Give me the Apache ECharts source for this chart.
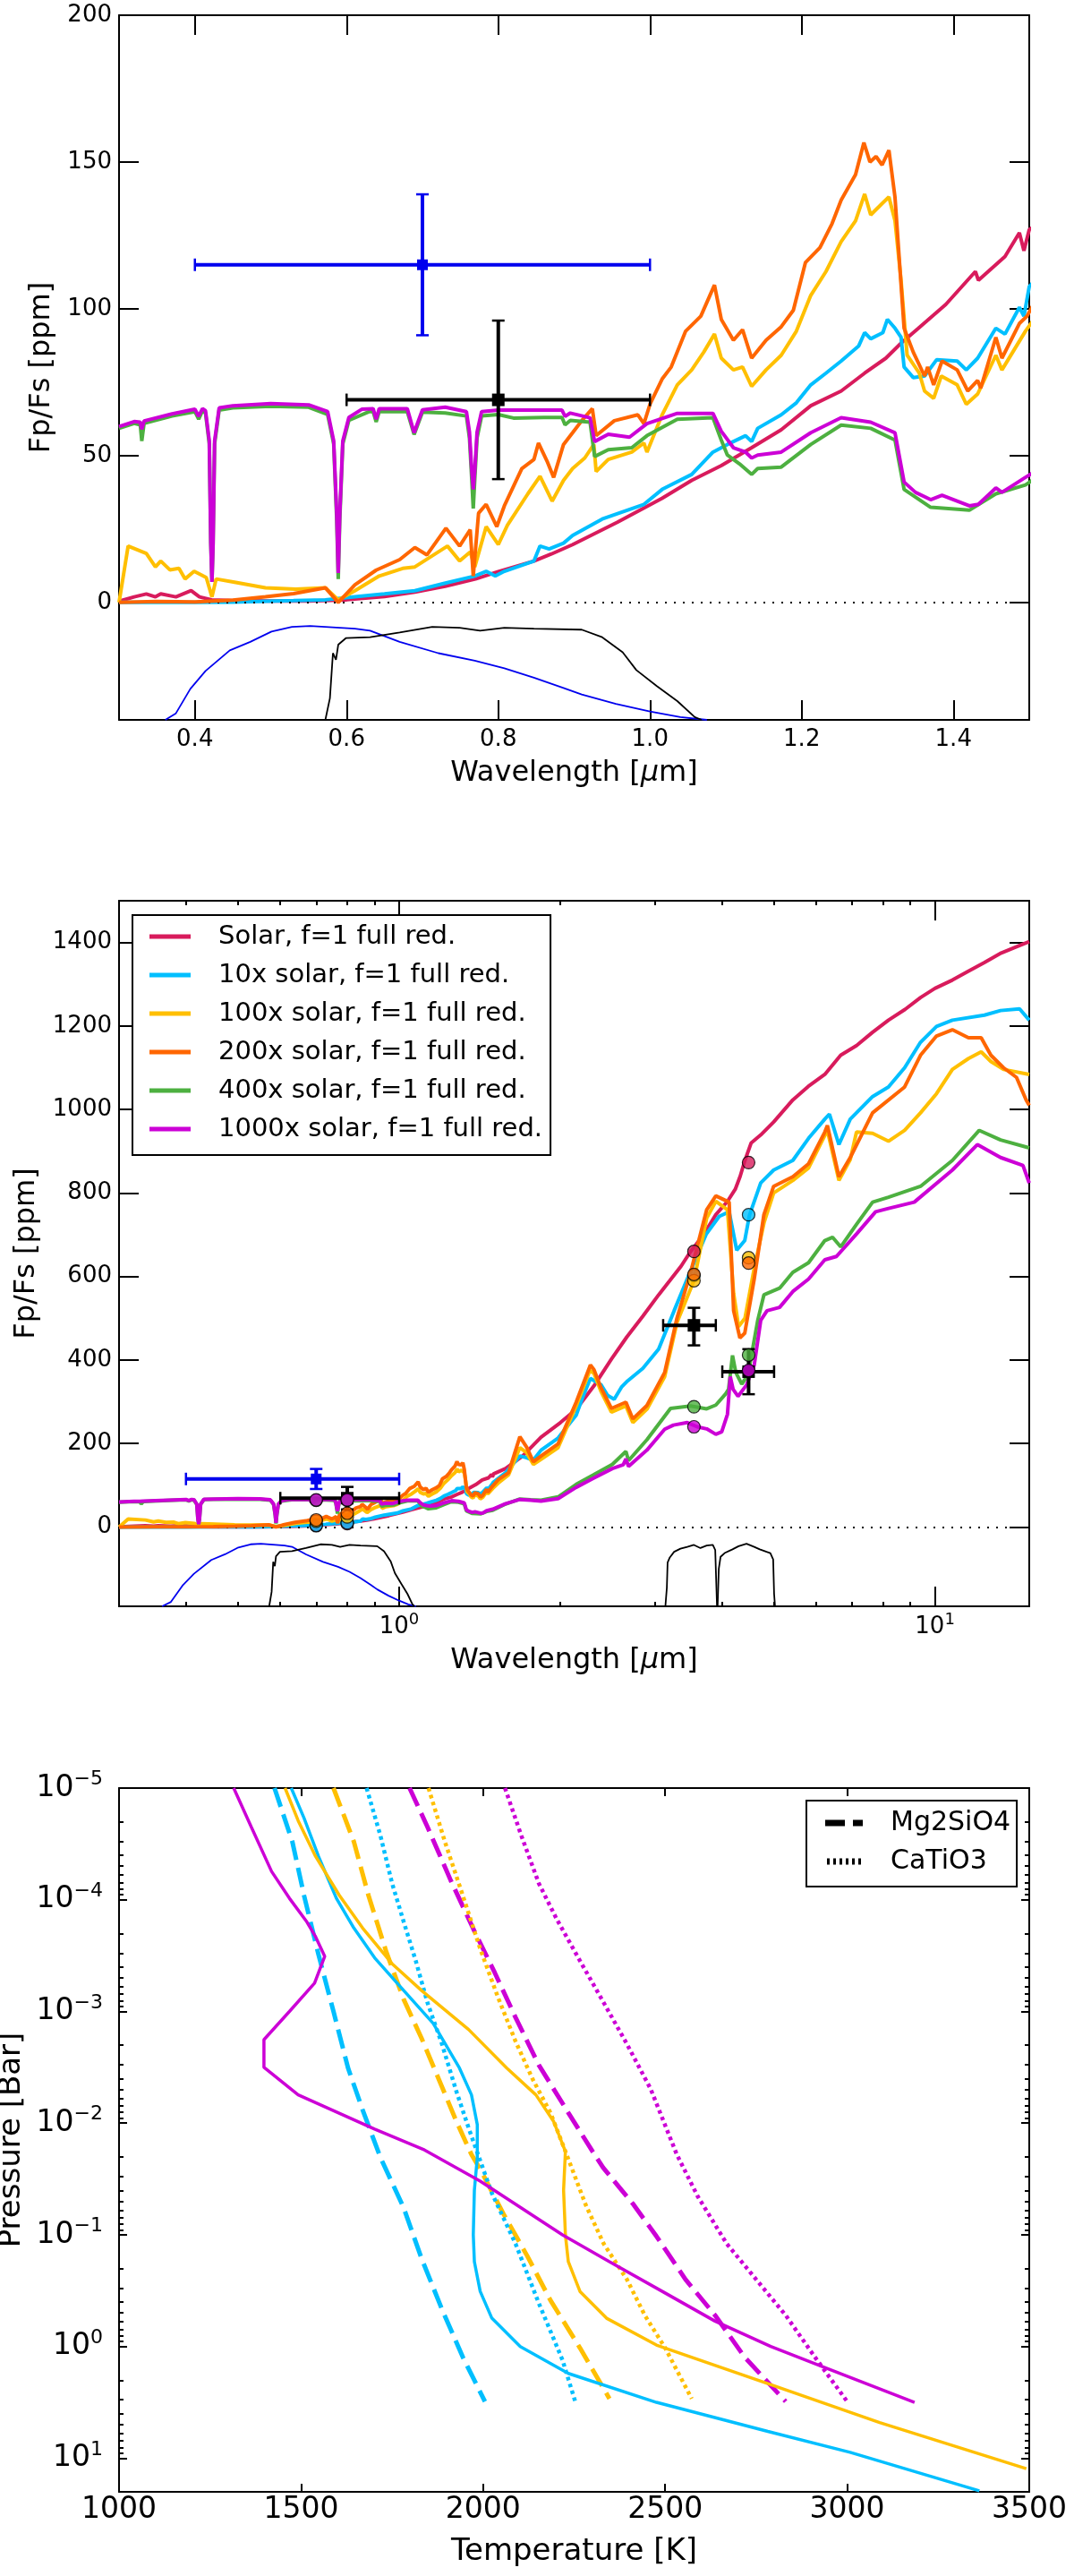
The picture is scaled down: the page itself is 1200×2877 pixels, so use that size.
<!DOCTYPE html>
<html>
<head>
<meta charset="utf-8">
<script src="https://cdn.jsdelivr.net/npm/echarts@6/dist/echarts.min.js"></script>
<style>
  html, body { margin: 0; padding: 0; background: #fff; }
  #chart { width: 1200px; height: 2877px; }
</style>
</head>
<body>
<div id="chart"></div>
<script>
// ---- spectra: [wavelength (um), Fp/Fs (ppm)] ----
const SOLAR = [[0.3,0.4],[0.32,1.9],[0.336,2.9],[0.348,1.9],[0.355,2.9],[0.375,1.9],[0.395,4.0],[0.406,1.9],[0.422,0.9],[0.45,0.6],[0.5,0.5],[0.55,0.5],[0.6,0.9],[0.65,2.0],[0.69,3.5],[0.73,5.5],[0.77,8.0],[0.8,10.5],[0.847,14.1],[0.87,16.5],[0.898,19.7],[0.957,27.3],[1.016,35.5],[1.055,41.6],[1.094,46.6],[1.134,52.7],[1.173,58.8],[1.212,67],[1.252,72],[1.283,78.1],[1.311,83.2],[1.331,88.3],[1.354,93.4],[1.39,101.5],[1.429,112.7],[1.433,109.7],[1.468,117.8],[1.487,125.9],[1.493,119.8],[1.5,127],[1.58,140],[1.7,170],[1.84,215],[2.0,250],[2.14,282],[2.31,338],[2.49,402],[2.66,455],[2.85,505],[3.05,556],[3.2,590],[3.36,625],[3.5,660],[3.7,700],[3.9,748],[4.1,780],[4.24,809],[4.33,840],[4.42,878],[4.54,920],[4.73,939],[5.0,970],[5.43,1023],[5.8,1055],[6.23,1084],[6.67,1130],[7.14,1153],[7.65,1185],[8.19,1214],[8.8,1240],[9.4,1268],[10.0,1290],[10.78,1310],[11.5,1330],[12.37,1352],[13.3,1375],[14.2,1390],[15,1402]];
const X10 = [[0.3,0],[0.4,0],[0.45,0.1],[0.493,0.4],[0.53,0.6],[0.572,0.9],[0.611,1.9],[0.65,2.9],[0.69,4.0],[0.729,6.5],[0.769,9.0],[0.784,10.6],[0.796,9.0],[0.808,10.6],[0.847,14.1],[0.855,19.2],[0.867,18.2],[0.886,20.2],[0.898,22.8],[0.937,28.4],[0.992,33.4],[1.016,38.5],[1.055,43.6],[1.083,51.2],[1.102,53.8],[1.126,56.8],[1.134,54.8],[1.142,59.3],[1.173,63.9],[1.193,68],[1.212,74.1],[1.232,78.1],[1.252,82.2],[1.275,87.3],[1.283,91.9],[1.291,89.8],[1.307,91.9],[1.313,96.4],[1.323,93.4],[1.331,90.3],[1.335,80.2],[1.347,76.6],[1.362,77.1],[1.378,82.7],[1.405,82.2],[1.417,79.2],[1.432,83.2],[1.456,93.4],[1.468,91.4],[1.487,100.5],[1.493,97.5],[1.5,107.6],[1.58,130],[1.68,170],[1.73,166],[1.78,160],[1.84,184],[1.98,213],[2.14,268],[2.2,310],[2.275,356],[2.38,341],[2.45,315],[2.52,306],[2.6,335],[2.67,350],[2.85,380],[3.05,426],[3.26,518],[3.49,610],[3.745,702],[3.957,744],[4.13,755],[4.267,663],[4.416,686],[4.507,747],[4.73,824],[5.0,855],[5.43,878],[5.81,931],[6.23,977],[6.355,989],[6.62,916],[6.95,977],[7.65,1031],[8.19,1054],[8.78,1100],[9.4,1161],[10.07,1199],[10.78,1214],[12.37,1226],[13.26,1237],[14.39,1241],[15,1214]];
const X100 = [[0.3,0],[0.312,19.2],[0.336,16.7],[0.348,12.1],[0.355,14.1],[0.367,11.1],[0.379,11.6],[0.387,8],[0.399,10.6],[0.415,8.5],[0.4225,1.9],[0.428,8],[0.454,6.8],[0.493,5],[0.533,4.5],[0.572,5],[0.589,0.9],[0.611,4],[0.643,9],[0.674,11.6],[0.69,12.1],[0.733,19.2],[0.749,14.1],[0.763,17.2],[0.769,12.1],[0.784,25.8],[0.8,19.7],[0.812,26.3],[0.839,37],[0.855,43],[0.871,34.5],[0.886,41.6],[0.898,45.6],[0.914,49.2],[0.926,53.8],[0.929,44.6],[0.945,48.7],[0.976,51.2],[0.992,54.3],[0.996,51.2],[1.016,63.9],[1.036,74.1],[1.055,79.2],[1.071,85.3],[1.085,91.4],[1.094,83.2],[1.11,79.2],[1.122,80.2],[1.134,73.6],[1.153,79.2],[1.173,84.2],[1.193,92.4],[1.212,104.6],[1.232,112.7],[1.252,122.9],[1.271,130],[1.283,139.1],[1.291,132],[1.307,136.1],[1.315,138.1],[1.323,130],[1.331,109.7],[1.339,84.2],[1.355,78.1],[1.362,72],[1.374,69.5],[1.384,77.1],[1.405,74.1],[1.417,67.5],[1.432,71],[1.456,84.2],[1.464,79.2],[1.495,92.4],[1.53,105],[1.6,125],[1.68,190],[1.73,178],[1.78,150],[1.84,162],[1.98,190],[2.14,290],[2.27,375],[2.31,368],[2.38,325],[2.49,275],[2.65,290],[2.73,250],[2.9,282],[3.13,360],[3.3,490],[3.55,590],[3.75,740],[3.9,780],[4.1,760],[4.21,560],[4.3,480],[4.42,500],[4.6,620],[4.8,730],[5.0,800],[5.43,830],[5.81,860],[6.3,950],[6.62,830],[6.95,880],[7.14,946],[7.65,943],[8.19,924],[8.78,950],[9.4,992],[10.07,1038],[10.78,1096],[11.55,1122],[12.2,1138],[12.72,1115],[13.43,1096],[15,1084]];
const X200 = [[0.3,0],[0.35,0.3],[0.4,0.2],[0.45,0.8],[0.493,1.9],[0.53,3],[0.572,5],[0.589,0],[0.611,6],[0.639,11],[0.67,14.6],[0.69,18.7],[0.706,16.2],[0.731,25.3],[0.749,19.2],[0.763,24.8],[0.767,9],[0.774,30.4],[0.784,33.4],[0.798,25.8],[0.808,32.9],[0.831,45.6],[0.847,48.7],[0.853,54.3],[0.865,47.7],[0.873,42.6],[0.886,53.8],[0.898,57.8],[0.91,61.9],[0.924,66],[0.929,56.8],[0.953,61.9],[0.984,63.9],[0.992,60.9],[1.0,67.5],[1.016,76.1],[1.028,80.2],[1.047,92.4],[1.067,97.5],[1.085,108.1],[1.094,96.4],[1.11,89.3],[1.122,92.9],[1.134,83.2],[1.153,89.3],[1.173,93.9],[1.189,99.5],[1.205,115.8],[1.224,120.8],[1.24,129],[1.252,137],[1.271,145.7],[1.282,156.6],[1.29,150],[1.298,151.9],[1.306,149],[1.315,154],[1.323,138],[1.335,93.4],[1.347,85.3],[1.362,77.1],[1.366,80.2],[1.374,74.1],[1.385,82.2],[1.405,79.2],[1.419,72],[1.432,75.6],[1.436,73],[1.456,90.3],[1.464,83.2],[1.487,95],[1.497,97.5],[1.53,113],[1.6,130],[1.68,216],[1.73,191],[1.78,156],[1.84,170],[1.98,199],[2.14,299],[2.275,388],[2.31,377],[2.38,334],[2.49,284],[2.65,299],[2.73,259],[2.9,291],[3.13,370],[3.3,500],[3.5,610],[3.75,760],[3.9,793],[4.13,778],[4.21,518],[4.325,453],[4.416,464],[4.6,594],[4.795,748],[5.0,816],[5.43,839],[5.81,870],[6.23,946],[6.3,962],[6.62,839],[6.95,885],[7.65,992],[8.78,1054],[9.4,1130],[10.07,1176],[10.78,1191],[11.55,1172],[12.2,1172],[12.72,1130],[13.43,1100],[14.2,1077],[14.8,1023],[15,1010]];
const X400 = [[0.3,59.3],[0.32,61],[0.328,60.5],[0.33,55],[0.333,61],[0.37,63.5],[0.4,65],[0.405,62.4],[0.41,65.3],[0.414,64.5],[0.419,54],[0.421,20],[0.4225,7],[0.424,20],[0.426,54],[0.432,65.5],[0.45,66.3],[0.5,66.8],[0.55,66.5],[0.575,64],[0.583,54],[0.587,28],[0.589,8],[0.591,28],[0.595,54],[0.603,62],[0.63,65],[0.635,65],[0.639,61.5],[0.643,65],[0.68,65],[0.689,57.2],[0.7,64.8],[0.73,64.5],[0.758,63.5],[0.762,56],[0.765,42],[0.767,32],[0.769,42],[0.772,56],[0.778,63.5],[0.8,64],[0.82,62.8],[0.86,63],[0.884,63],[0.888,60.5],[0.895,62],[0.921,61.4],[0.927,49.7],[0.945,52],[0.976,52.7],[0.996,56.8],[1.036,62.4],[1.083,62.9],[1.094,55.3],[1.102,50.2],[1.118,47.2],[1.134,43.6],[1.142,45.6],[1.173,46.1],[1.212,53.8],[1.252,60.4],[1.291,59.3],[1.323,55.3],[1.335,38.5],[1.37,32.4],[1.421,31.4],[1.456,37],[1.495,40],[1.58,55],[1.68,67],[1.76,65],[1.84,64],[1.98,72],[2.14,102],[2.3,124],[2.5,150],[2.65,181],[2.68,159],[2.9,209],[3.21,284],[3.5,290],[3.75,283],[3.9,292],[4.07,319],[4.12,330],[4.19,411],[4.25,370],[4.36,342],[4.48,365],[4.67,495],[4.795,556],[5.13,572],[5.43,610],[5.81,633],[6.23,686],[6.44,694],[6.67,671],[7.14,725],[7.65,778],[8.19,790],[9.4,816],[10.78,878],[12.1,950],[13.26,927],[15,908]];
const X1000 = [[0.3,59.9],[0.32,61.6],[0.328,61.4],[0.33,59],[0.333,61.8],[0.37,64.2],[0.4,65.8],[0.405,63.4],[0.41,66],[0.414,65.3],[0.419,55],[0.421,20],[0.4225,7],[0.424,20],[0.426,55],[0.432,66.3],[0.45,67],[0.5,67.7],[0.55,67.3],[0.575,65],[0.583,55],[0.587,30],[0.589,10],[0.591,30],[0.595,55],[0.603,63],[0.62,65.8],[0.635,66],[0.639,62.4],[0.643,66],[0.68,66],[0.689,57.8],[0.7,65.6],[0.73,66.5],[0.758,65],[0.762,58],[0.765,45],[0.767,38.5],[0.769,45],[0.772,58],[0.778,65],[0.8,65.5],[0.85,65.5],[0.884,65.5],[0.888,63.4],[0.895,64.5],[0.921,62.9],[0.927,54.8],[0.945,57.3],[0.973,56.3],[0.996,60.9],[1.036,64.4],[1.083,64.4],[1.094,58.3],[1.11,52.7],[1.126,51.2],[1.134,49.2],[1.142,50.2],[1.173,51.2],[1.212,57.8],[1.252,62.9],[1.291,61.4],[1.323,57.8],[1.335,41],[1.35,37.5],[1.37,35],[1.385,36.5],[1.421,32.9],[1.433,33.4],[1.456,39],[1.464,37.5],[1.495,42.6],[1.58,56],[1.68,66],[1.76,64],[1.84,62],[1.98,68],[2.14,95],[2.3,116],[2.5,140],[2.62,149],[2.65,163],[2.68,145],[2.9,184],[3.13,234],[3.25,244],[3.45,250],[3.6,240],[3.75,235],[3.9,222],[4.0,228],[4.1,270],[4.15,360],[4.2,330],[4.29,313],[4.45,340],[4.6,388],[4.73,495],[4.86,518],[5.13,526],[5.43,564],[5.81,594],[6.23,640],[6.55,648],[7.14,702],[7.75,755],[8.19,763],[9.15,778],[10.78,855],[12.0,916],[13.26,885],[14.6,866],[15,824]];

// band-averaged model values at the photometric points
const BAND_X = [0.7, 0.8, 3.55, 4.49];
const BAND_SOLAR = [3, 8, 660, 873];
const BAND_X10 = [4, 10, 602, 748];
const BAND_X100 = [14, 24, 590, 645];
const BAND_X200 = [17, 33, 605, 632];
const BAND_X400 = [64, 64, 288, 412];
const BAND_X1000 = [65, 65, 240, 375];

// observations: [x, y, xlo, xhi, ylo, yhi]
const OBS_BLUE = [[0.7, 115, 0.4, 1.0, 91, 139]];
const OBS_OPT = [[0.8, 69, 0.6, 1.0, 42, 96]];
const OBS_IR = [[3.55, 483, 3.11, 3.90, 435, 525], [4.49, 372, 4.01, 5.01, 318, 426]];

// filter transmission (relative 0..1)
const FILT_BLUE = [[0.361,0],[0.375,0.07],[0.394,0.33],[0.414,0.52],[0.446,0.74],[0.473,0.83],[0.501,0.94],[0.528,0.99],[0.552,1.0],[0.611,0.97],[0.631,0.95],[0.67,0.83],[0.721,0.71],[0.769,0.63],[0.808,0.55],[0.847,0.45],[0.886,0.34],[0.91,0.27],[0.955,0.17],[1.0,0.09],[1.04,0.03],[1.075,0]];
const FILT_OPT = [[0.572,0],[0.578,0.23],[0.582,0.71],[0.586,0.64],[0.589,0.8],[0.599,0.87],[0.631,0.88],[0.67,0.93],[0.713,0.99],[0.749,0.98],[0.776,0.95],[0.808,0.98],[0.847,0.97],[0.91,0.96],[0.937,0.88],[0.964,0.72],[0.982,0.53],[1.009,0.36],[1.036,0.2],[1.059,0.03],[1.068,0]];
const FILT_IRAC1 = [[3.14,0],[3.16,0.3],[3.17,0.7],[3.2,0.78],[3.26,0.87],[3.35,0.92],[3.45,0.95],[3.55,0.98],[3.65,0.93],[3.75,0.97],[3.85,0.98],[3.89,0.9],[3.91,0.3],[3.92,0]];
const FILT_IRAC2 = [[3.93,0],[3.95,0.6],[3.98,0.79],[4.05,0.85],[4.19,0.91],[4.3,0.96],[4.45,1.0],[4.6,0.95],[4.71,0.91],[4.85,0.87],[4.93,0.85],[4.99,0.75],[5.01,0.2],[5.03,0]];

// ---- T-P profiles: [temperature (K), pressure (bar)] ----
const TP_X10 = [[1473,1e-5],[1508,1.85e-5],[1548,4.10e-5],[1597,9.70e-5],[1645,1.79e-4],[1702,3.31e-4],[1782,6.50e-4],[1863,1.28e-3],[1935,3.21e-3],[1968,5.58e-3],[1984,1.03e-2],[1984,2.03e-2],[1976,3.98e-2],[1973,0.1],[1976,0.174],[1992,0.321],[2024,0.558],[2102,1],[2234,1.74],[2476,3.16],[2782,5.75],[3008,8.85],[3363,19.6]];
const TP_X100 = [[1456,1e-5],[1492,1.96e-5],[1540,4.10e-5],[1605,9.12e-5],[1669,1.79e-4],[1750,3.74e-4],[1831,6.50e-4],[1960,1.45e-3],[2065,3.21e-3],[2145,5.58e-3],[2194,9.70e-3],[2226,1.79e-2],[2221,3.98e-2],[2226,0.1],[2234,0.174],[2266,0.321],[2339,0.558],[2476,0.970],[2782,2.15],[3089,4.79],[3492,12.4]];
const TP_X1000 = [[1315,1e-5],[1363,2.22e-5],[1419,5.58e-5],[1468,9.70e-5],[1516,1.58e-4],[1540,2.15e-4],[1565,3.21e-4],[1537,5.58e-4],[1468,1e-3],[1398,1.79e-3],[1398,3.17e-3],[1492,5.58e-3],[1702,1.13e-2],[1839,1.74e-2],[1992,3.31e-2],[2105,5.75e-2],[2218,0.1],[2347,0.174],[2492,0.321],[2637,0.593],[2790,1],[2927,1.49],[3185,3.16]];
const MG_X10 = [[1427,1e-5],[1476,3.02e-5],[1508,9.12e-5],[1548,3.11e-4],[1589,1e-3],[1629,3.21e-3],[1669,7.59e-3],[1718,2.03e-2],[1782,5.75e-2],[1831,0.163],[1887,0.465],[1944,1.24],[2005,3.11]];
const MG_X100 = [[1589,1e-5],[1645,3.02e-5],[1685,9.12e-5],[1734,2.93e-4],[1782,7.82e-4],[1831,1.74e-3],[1879,4.10e-3],[1927,9.70e-3],[1968,1.91e-2],[1992,2.59e-2],[2056,6.50e-2],[2121,0.154],[2185,0.386],[2266,1.03],[2347,2.93]];
const MG_X1000 = [[1798,1e-5],[1847,2.22e-5],[1911,6.71e-5],[1976,1.91e-4],[2032,4.50e-4],[2089,1.13e-3],[2153,3.02e-3],[2234,8.07e-3],[2306,1.91e-2],[2330,2.51e-2],[2411,5.25e-2],[2476,0.103],[2556,0.251],[2637,0.525],[2718,1.24],[2831,3.11]];
const CA_X10 = [[1680,1e-5],[1718,2.67e-5],[1750,7.13e-5],[1782,1.58e-4],[1815,3.52e-4],[1847,8.32e-4],[1887,1.96e-3],[1927,5.25e-3],[1960,1.10e-2],[1986,1.91e-2],[2024,4.24e-2],[2089,0.120],[2153,0.410],[2218,1.32],[2253,3.11]];
const CA_X100 = [[1850,1e-5],[1895,3.02e-5],[1944,9.12e-5],[1992,2.75e-4],[2040,7.36e-4],[2089,1.85e-3],[2137,4.10e-3],[2185,8.07e-3],[2226,1.79e-2],[2282,5.41e-2],[2331,0.120],[2395,0.251],[2444,0.525],[2500,1.03],[2573,2.93]];
const CA_X1000 = [[2060,1e-5],[2105,2.67e-5],[2153,7.13e-5],[2202,1.49e-4],[2266,3.52e-4],[2331,8.32e-4],[2395,1.96e-3],[2460,4.93e-3],[2532,1.91e-2],[2589,4.50e-2],[2669,0.120],[2750,0.251],[2831,0.525],[2911,1.24],[3000,3.11]];

// ---- ticks ----
const TOP_XTICKS = [0.4, 0.6, 0.8, 1.0, 1.2, 1.4];
const TOP_YTICKS = [0, 50, 100, 150, 200];
const MID_XTICKS = [1, 10];
const MID_XMINOR = [0.4, 0.5, 0.6, 0.7, 0.8, 0.9, 2, 3, 4, 5, 6, 7, 8, 9];
const MID_YTICKS = [0, 200, 400, 600, 800, 1000, 1200, 1400];
const P_DECADES = [1e-5, 1e-4, 1e-3, 1e-2, 1e-1, 1, 10];
const P_MINOR_MULT = [2, 3, 4, 5, 6, 7, 8, 9];

const FONT = 'DejaVu Sans';
const COL = {
  solar: '#D81B5C', x10: '#00BFFF', x100: '#FFBF00',
  x200: '#FF6600', x400: '#4DB040', x1000: '#CC00D6', blue: '#0000EE'
};

const MODELS = [
  { name: 'Solar, f=1 full red.', color: COL.solar, spec: SOLAR, band: BAND_SOLAR },
  { name: '10x solar, f=1 full red.', color: COL.x10, spec: X10, band: BAND_X10 },
  { name: '100x solar, f=1 full red.', color: COL.x100, spec: X100, band: BAND_X100 },
  { name: '200x solar, f=1 full red.', color: COL.x200, spec: X200, band: BAND_X200 },
  { name: '400x solar, f=1 full red.', color: COL.x400, spec: X400, band: BAND_X400 },
  { name: '1000x solar, f=1 full red.', color: COL.x1000, spec: X1000, band: BAND_X1000 }
];

const pMinor = [];
P_DECADES.slice(0, 6).forEach(d => P_MINOR_MULT.forEach(m => pMinor.push(m * d)));

const SUP = { '-': '\u2212' };
function supText(e) { return String(e).split('').map(c => SUP[c] || c).join(''); }

// filter curves are drawn in the negative strip of each panel
function scaleFilter(curve, base, span) {
  return curve.map(p => [p[0], base + p[1] * span]);
}

const frame = { show: true, onZero: false, lineStyle: { color: '#000', width: 2 } };
const hiddenLine = { show: false, onZero: false };
function ticks(len, values) {
  return { show: true, inside: true, length: len, lineStyle: { color: '#000', width: 2 }, customValues: values };
}
const noLabel = { show: false };

function errRender(size) {
  return function (params, api) {
    const x = api.value(0), y = api.value(1);
    const c = api.coord([x, y]);
    const l = api.coord([api.value(2), y]);
    const r = api.coord([api.value(3), y]);
    const b = api.coord([x, api.value(4)]);
    const t = api.coord([x, api.value(5)]);
    const color = api.visual('color');
    const bar = { stroke: color, lineWidth: 4 };
    const capS = { stroke: color, lineWidth: 2.5 };
    const cap = 7;
    return {
      type: 'group',
      children: [
        { type: 'line', shape: { x1: l[0], y1: l[1], x2: r[0], y2: r[1] }, style: bar },
        { type: 'line', shape: { x1: b[0], y1: b[1], x2: t[0], y2: t[1] }, style: bar },
        { type: 'line', shape: { x1: l[0], y1: l[1] - cap, x2: l[0], y2: l[1] + cap }, style: capS },
        { type: 'line', shape: { x1: r[0], y1: r[1] - cap, x2: r[0], y2: r[1] + cap }, style: capS },
        { type: 'line', shape: { x1: b[0] - cap, y1: b[1], x2: b[0] + cap, y2: b[1] }, style: capS },
        { type: 'line', shape: { x1: t[0] - cap, y1: t[1], x2: t[0] + cap, y2: t[1] }, style: capS },
        { type: 'rect', shape: { x: c[0] - size / 2, y: c[1] - size / 2, width: size, height: size }, style: { fill: color } }
      ]
    };
  };
}

const zeroLine = {
  silent: true, symbol: ['none', 'none'], label: { show: false },
  lineStyle: { color: '#000', type: [2, 8], width: 2 },
  data: [{ yAxis: 0 }]
};

const series = [];

// panel 1 (linear) and panel 2 (log) share the same spectra
[[0, 0, -40, 32], [2, 2, -190, 150]].forEach(([xi, yi, base, span]) => {
  series.push({ type: 'line', xAxisIndex: xi, yAxisIndex: yi, data: scaleFilter(FILT_BLUE, base, span),
    symbol: 'none', silent: true, z: 1, lineStyle: { color: COL.blue, width: 1.8 }, color: COL.blue });
  [FILT_OPT, FILT_IRAC1, FILT_IRAC2].forEach(f => {
    series.push({ type: 'line', xAxisIndex: xi, yAxisIndex: yi, data: scaleFilter(f, base, span),
      symbol: 'none', silent: true, z: 1, lineStyle: { color: '#000', width: 1.8 }, color: '#000' });
  });
  MODELS.forEach((m, i) => {
    series.push({
      type: 'line', name: m.name, xAxisIndex: xi, yAxisIndex: yi, data: m.spec,
      symbol: 'none', silent: true, z: 3 + i, color: m.color,
      lineStyle: { color: m.color, width: 4 },
      markLine: i === 0 ? zeroLine : undefined
    });
  });
  const obs = xi === 0 ? [[OBS_BLUE, COL.blue, 12], [OBS_OPT, '#000', 14]]
                       : [[OBS_BLUE, COL.blue, 12], [OBS_OPT, '#000', 14], [OBS_IR, '#000', 14]];
  obs.forEach(([d, c, s]) => {
    series.push({ type: 'custom', xAxisIndex: xi, yAxisIndex: yi, data: d, renderItem: errRender(s),
      encode: { x: 0, y: 1 }, itemStyle: { color: c }, z: 12, silent: true, clip: true });
  });
  if (xi === 2) {
    MODELS.forEach((m, i) => {
      series.push({ type: 'scatter', xAxisIndex: xi, yAxisIndex: yi,
        data: BAND_X.map((x, k) => [x, m.band[k]]), symbol: 'circle', symbolSize: 14, silent: true,
        itemStyle: { color: m.color, borderColor: '#000', borderWidth: 1.2 }, z: 14 + i });
    });
  }
});

// panel 3: temperature-pressure profiles
[[TP_X10, COL.x10], [TP_X100, COL.x100], [TP_X1000, COL.x1000]].forEach(([d, c]) => {
  series.push({ type: 'line', xAxisIndex: 6, yAxisIndex: 4, data: d, symbol: 'none', silent: true,
    color: c, lineStyle: { color: c, width: 3.5 }, z: 4 });
});
[[MG_X10, COL.x10], [MG_X100, COL.x100], [MG_X1000, COL.x1000]].forEach(([d, c]) => {
  series.push({ type: 'line', xAxisIndex: 6, yAxisIndex: 4, data: d, symbol: 'none', silent: true,
    color: c, lineStyle: { color: c, width: 5, type: [22, 9] }, z: 3 });
});
[[CA_X10, COL.x10], [CA_X100, COL.x100], [CA_X1000, COL.x1000]].forEach(([d, c]) => {
  series.push({ type: 'line', xAxisIndex: 6, yAxisIndex: 4, data: d, symbol: 'none', silent: true,
    color: c, lineStyle: { color: c, width: 4.5, type: [4, 4] }, z: 3 });
});
series.push({ type: 'line', name: 'Mg2SiO4', xAxisIndex: 6, yAxisIndex: 4, data: [], symbol: 'none',
  color: '#000', lineStyle: { color: '#000', width: 5, type: [22, 9] } });
series.push({ type: 'line', name: 'CaTiO3', xAxisIndex: 6, yAxisIndex: 4, data: [], symbol: 'none',
  color: '#000', lineStyle: { color: '#000', width: 4, type: [3.5, 3.5] } });

const tickFont = { color: '#000', fontFamily: FONT, fontSize: 26 };
const nameFont = { color: '#000', fontFamily: FONT, fontSize: 32 };
const supRich = (big, small) => ({
  b: { fontFamily: FONT, fontSize: big, lineHeight: big + 8, color: '#000' },
  s: { fontFamily: FONT, fontSize: small, lineHeight: small, verticalAlign: 'top', color: '#000' }
});
const logLabel = v => '{b|10}{s|' + supText(Math.round(Math.log10(v))) + '}';
const plain = v => String(Math.round(v));

const grids = [
  { left: 133, top: 17, width: 1017, height: 787 },
  { left: 133, top: 1006, width: 1017, height: 788 },
  { left: 133, top: 1997, width: 1017, height: 786 }
].map(g => Object.assign({ outerBoundsMode: 'none', containLabel: false, show: false }, g));

const muName = { rich: { i: { fontFamily: FONT, fontSize: 32, fontStyle: 'italic', color: '#000' } } };

const xAxis = [
  { gridIndex: 0, type: 'value', position: 'bottom', min: 0.3, max: 1.5, axisLine: frame,
    axisTick: ticks(22, TOP_XTICKS), splitLine: { show: false },
    axisLabel: Object.assign({ customValues: TOP_XTICKS, formatter: v => v.toFixed(1), margin: 9 }, tickFont),
    name: 'Wavelength [{i|\u03bc}m]', nameLocation: 'middle', nameGap: 44,
    nameTextStyle: Object.assign({}, muName, nameFont) },
  { gridIndex: 0, type: 'value', position: 'top', min: 0.3, max: 1.5, axisLine: frame,
    axisTick: ticks(22, TOP_XTICKS), axisLabel: noLabel, splitLine: { show: false } },
  { gridIndex: 1, type: 'log', position: 'bottom', min: 0.3, max: 15, axisLine: frame,
    axisTick: ticks(22, MID_XTICKS), splitLine: { show: false },
    axisLabel: { customValues: MID_XTICKS, formatter: logLabel, margin: 6, rich: supRich(26, 18) },
    name: 'Wavelength [{i|\u03bc}m]', nameLocation: 'middle', nameGap: 45,
    nameTextStyle: Object.assign({}, muName, nameFont) },
  { gridIndex: 1, type: 'log', position: 'bottom', min: 0.3, max: 15, axisLine: hiddenLine,
    axisTick: ticks(5, MID_XMINOR), axisLabel: noLabel, splitLine: { show: false } },
  { gridIndex: 1, type: 'log', position: 'top', min: 0.3, max: 15, axisLine: frame,
    axisTick: ticks(22, MID_XTICKS), axisLabel: noLabel, splitLine: { show: false } },
  { gridIndex: 1, type: 'log', position: 'top', min: 0.3, max: 15, axisLine: hiddenLine,
    axisTick: ticks(5, MID_XMINOR), axisLabel: noLabel, splitLine: { show: false } },
  { gridIndex: 2, type: 'value', position: 'bottom', min: 1000, max: 3500, interval: 500, axisLine: frame,
    axisTick: { show: true, inside: true, length: 9, lineStyle: { color: '#000', width: 2 } }, splitLine: { show: false },
    axisLabel: Object.assign({ margin: 4, formatter: plain }, tickFont, { fontSize: 33 }),
    name: 'Temperature [K]', nameLocation: 'middle', nameGap: 50, nameTextStyle: Object.assign({}, nameFont, { fontSize: 34 }) },
  { gridIndex: 2, type: 'value', position: 'top', min: 1000, max: 3500, interval: 500, axisLine: frame,
    axisTick: { show: true, inside: true, length: 9, lineStyle: { color: '#000', width: 2 } },
    axisLabel: noLabel, splitLine: { show: false } }
];

const yAxis = [
  { gridIndex: 0, type: 'value', position: 'left', min: -40, max: 200, axisLine: frame,
    axisTick: ticks(22, TOP_YTICKS), splitLine: { show: false },
    axisLabel: Object.assign({ customValues: TOP_YTICKS, margin: 8, formatter: plain }, tickFont),
    name: 'Fp/Fs [ppm]', nameLocation: 'middle', nameGap: 70, nameTextStyle: nameFont },
  { gridIndex: 0, type: 'value', position: 'right', min: -40, max: 200, axisLine: frame,
    axisTick: ticks(22, TOP_YTICKS), axisLabel: noLabel, splitLine: { show: false } },
  { gridIndex: 1, type: 'value', position: 'left', min: -190, max: 1500, axisLine: frame,
    axisTick: ticks(22, MID_YTICKS), splitLine: { show: false },
    axisLabel: Object.assign({ customValues: MID_YTICKS, margin: 8, formatter: plain }, tickFont),
    name: 'Fp/Fs [ppm]', nameLocation: 'middle', nameGap: 87, nameTextStyle: nameFont },
  { gridIndex: 1, type: 'value', position: 'right', min: -190, max: 1500, axisLine: frame,
    axisTick: ticks(22, MID_YTICKS), axisLabel: noLabel, splitLine: { show: false } },
  { gridIndex: 2, type: 'log', position: 'left', inverse: true, min: 1e-5, max: 20, axisLine: frame,
    axisTick: ticks(9, P_DECADES), splitLine: { show: false },
    axisLabel: { customValues: P_DECADES, formatter: logLabel, margin: 18, rich: supRich(33, 22) },
    name: 'Pressure [Bar]', nameLocation: 'middle', nameGap: 96, nameTextStyle: Object.assign({}, nameFont, { fontSize: 34 }) },
  { gridIndex: 2, type: 'log', position: 'left', inverse: true, min: 1e-5, max: 20, axisLine: hiddenLine,
    axisTick: ticks(5, pMinor), axisLabel: noLabel, splitLine: { show: false } },
  { gridIndex: 2, type: 'log', position: 'right', inverse: true, min: 1e-5, max: 20, axisLine: frame,
    axisTick: ticks(9, P_DECADES), axisLabel: noLabel, splitLine: { show: false } },
  { gridIndex: 2, type: 'log', position: 'right', inverse: true, min: 1e-5, max: 20, axisLine: hiddenLine,
    axisTick: ticks(5, pMinor), axisLabel: noLabel, splitLine: { show: false } }
];

const ICON_DASH = 'path://M0,0H22V7H0Z M31,0H42V7H31Z';
const ICON_DOT = 'path://M0,0H3V7H0Z M7,0H10V7H7Z M14,0H17V7H14Z M21,0H24V7H21Z M28,0H31V7H28Z M35,0H38V7H35Z';

const legend = [
  { data: MODELS.map(m => ({ name: m.name, icon: 'rect' })), orient: 'vertical', left: 148, top: 1022,
    itemWidth: 46, itemHeight: 5, itemGap: 9, padding: [7, 9, 12, 19], selectedMode: false,
    borderColor: '#000', borderWidth: 2, borderRadius: 0, backgroundColor: '#fff', z: 30,
    textStyle: { fontFamily: FONT, fontSize: 29, lineHeight: 34, color: '#000', padding: [0, 0, 0, 26] } },
  { data: [{ name: 'Mg2SiO4', icon: ICON_DASH }, { name: 'CaTiO3', icon: ICON_DOT }], orient: 'vertical', left: 901, top: 2011,
    itemWidth: 42, itemHeight: 7, itemGap: 7, padding: [7, 7, 10, 21], selectedMode: false,
    borderColor: '#000', borderWidth: 2, borderRadius: 0, backgroundColor: '#fff', z: 30,
    textStyle: { fontFamily: FONT, fontSize: 30, lineHeight: 36, color: '#000', padding: [0, 0, 0, 26] } }
];

const chart = echarts.init(document.getElementById('chart'), null, { renderer: 'canvas' });
chart.setOption({
  animation: false,
  backgroundColor: '#fff',
  textStyle: { fontFamily: FONT },
  grid: grids,
  xAxis: xAxis,
  yAxis: yAxis,
  legend: legend,
  tooltip: { show: false },
  series: series
});
</script>
</body>
</html>
